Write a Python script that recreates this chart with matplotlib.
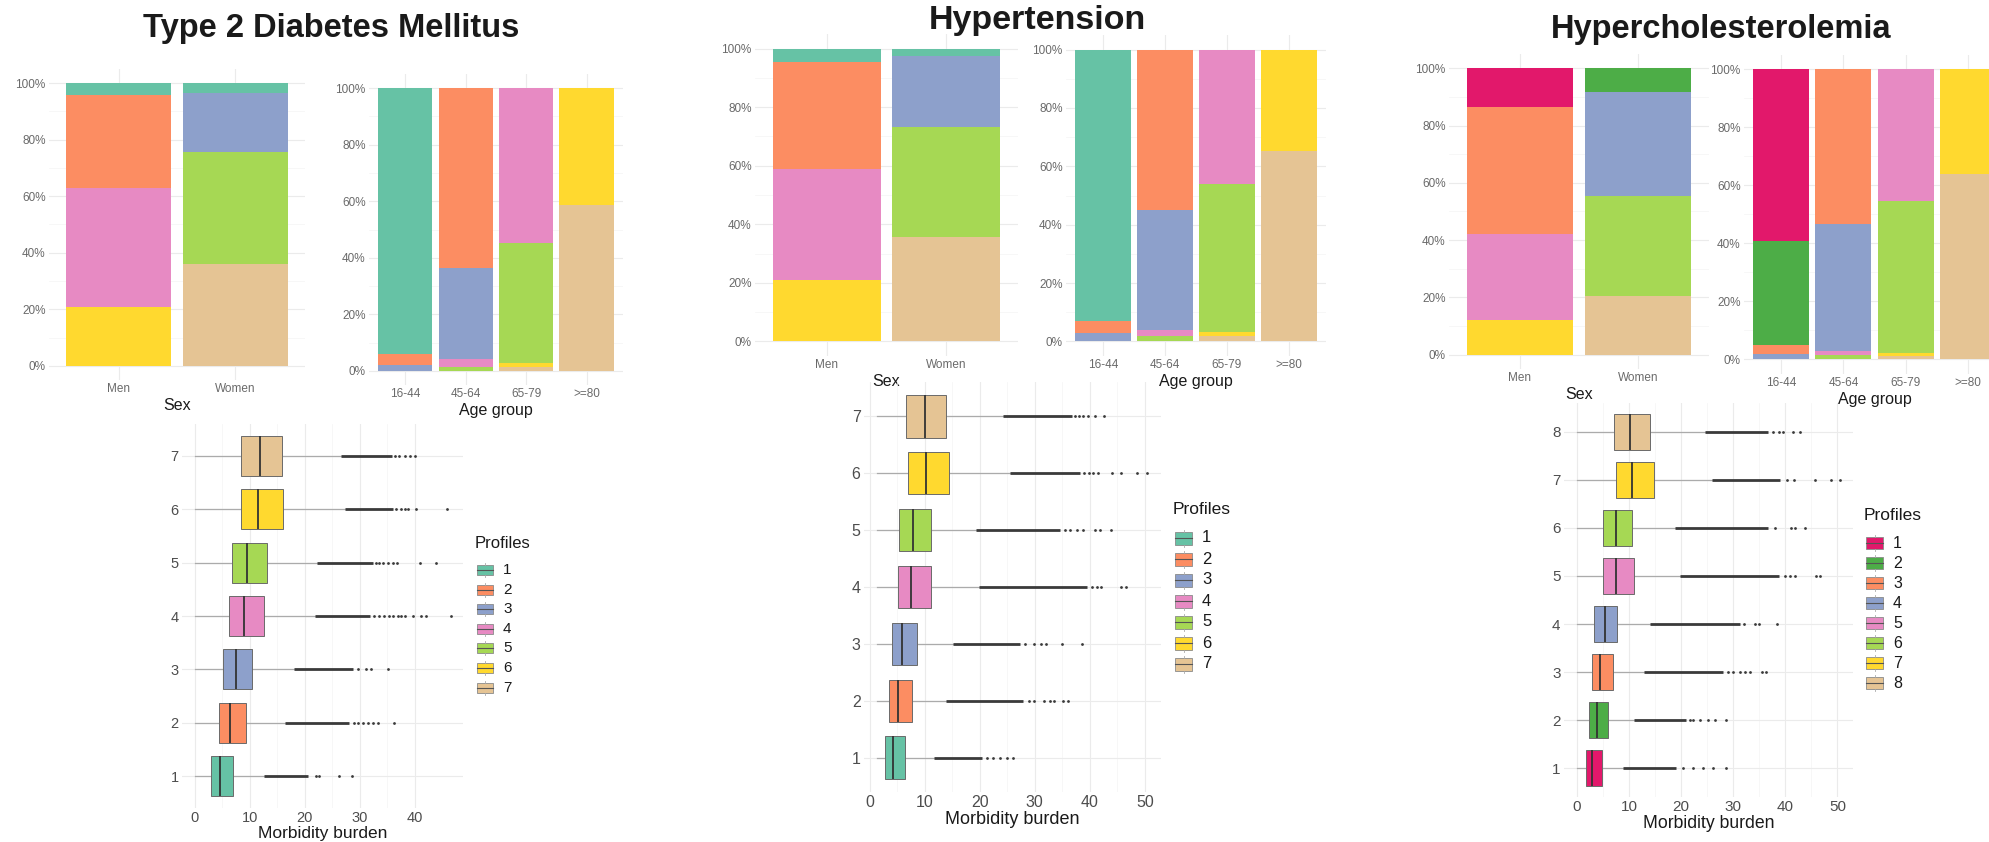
import matplotlib
matplotlib.use("Agg")
import matplotlib.pyplot as plt
from matplotlib.patches import Rectangle
import numpy as np

plt.rcParams['font.family'] = ['Liberation Sans', 'DejaVu Sans']

W, H, DPI = 1990, 842, 100

# ---------------------------------------------------------------- colours
SET2_7 = ["#66C2A5", "#FC8D62", "#8DA0CB", "#E78AC3", "#A6D854", "#FFD92F", "#E5C494"]
HCHOL_8 = ["#E2186B", "#4DAD47", "#FC8D62", "#8DA0CB", "#E78AC3", "#A6D854", "#FFD92F", "#E5C494"]

# ---------------------------------------------------------------- categories
sex_groups = ["Men", "Women"]
age_groups = ["16-44", "45-64", "65-79", ">=80"]
disease_titles = ["Type 2 Diabetes Mellitus", "Hypertension", "Hypercholesterolemia"]

# ---------------------------------------------------------------- profile shares (%) per group
t2dm_by_sex = [[4.1, 32.9, 0, 42.2, 0, 20.8, 0],
               [3.4, 0, 21.0, 0, 39.7, 0, 35.9]]
t2dm_by_age = [[94.0, 4.0, 2.0, 0, 0, 0, 0],
               [0, 63.5, 32.3, 2.8, 1.4, 0, 0],
               [0, 0, 0, 54.8, 42.3, 1.5, 1.4],
               [0, 0, 0, 0, 0, 41.4, 58.6]]

hta_by_sex = [[4.5, 36.6, 0, 37.8, 0, 21.1, 0],
              [2.5, 0, 24.3, 0, 37.7, 0, 35.5]]
hta_by_age = [[92.9, 4.1, 3.0, 0, 0, 0, 0],
              [0, 55.1, 40.9, 2.1, 1.9, 0, 0],
              [0, 0, 0, 45.9, 51.0, 1.4, 1.7],
              [0, 0, 0, 0, 0, 34.7, 65.3]]

hchol_by_sex = [[13.6, 0, 44.4, 0, 29.9, 0, 12.1, 0],
                [0, 8.1, 0, 36.5, 0, 34.8, 0, 20.6]]
hchol_by_age = [[59.0, 36.1, 3.1, 1.8, 0, 0, 0, 0],
                [0, 0, 53.2, 43.9, 1.4, 1.5, 0, 0],
                [0, 0, 0, 0, 45.5, 52.2, 1.2, 1.1],
                [0, 0, 0, 0, 0, 0, 36.1, 63.9]]

# ---------------------------------------------------------------- morbidity burden per profile
t2dm_q1 = [3.0, 4.4, 5.2, 6.2, 6.8, 8.4, 8.4]
t2dm_median = [4.7, 6.5, 7.6, 9.0, 9.5, 11.5, 11.8]
t2dm_q3 = [7.0, 9.4, 10.5, 12.6, 13.1, 16.1, 15.9]
t2dm_whisker_low = [0.1, 0.1, 0.1, 0.1, 0.1, 0.1, 0.1]
t2dm_whisker_high = [12.7, 16.4, 18.1, 21.8, 22.2, 27.3, 26.7]
t2dm_outlier_runs = [(12.7, 20.6), (16.4, 28.1), (18.1, 28.8), (21.8, 31.9),
                     (22.2, 32.4), (27.3, 36.1), (26.7, 35.8)]
t2dm_outliers = [[22.1, 22.7, 26.2, 28.7],
                 [28.9, 29.7, 30.6, 31.5, 32.4, 33.3, 36.2],
                 [29.7, 31.2, 32.1, 35.2],
                 [32.7, 33.6, 34.5, 35.3, 36.1, 37.0, 37.6, 38.2, 39.7, 41.2, 42.1, 46.7],
                 [33.0, 33.6, 34.2, 35.1, 36.1, 36.8, 40.9, 43.8],
                 [36.7, 37.6, 38.2, 38.8, 40.3, 45.8],
                 [36.4, 37.2, 38.2, 39.1, 40.0]]

hta_q1 = [2.8, 3.5, 4.0, 5.1, 5.3, 6.9, 6.7]
hta_median = [4.3, 5.1, 5.9, 7.6, 7.9, 10.3, 10.0]
hta_q3 = [6.4, 7.7, 8.6, 11.1, 11.1, 14.5, 13.9]
hta_whisker_low = [1.4, 1.4, 1.4, 1.4, 1.4, 1.4, 1.4]
hta_whisker_high = [11.7, 13.9, 15.2, 19.9, 19.3, 25.5, 24.3]
hta_outlier_runs = [(11.7, 20.4), (13.9, 27.8), (15.2, 27.4), (19.9, 39.4),
                    (19.3, 34.6), (25.5, 38.2), (24.3, 36.7)]
hta_outliers = [[21.3, 22.5, 23.6, 24.9, 26.1],
                [28.9, 29.8, 31.6, 32.7, 33.5, 35.2, 36.1],
                [28.3, 29.8, 31.1, 32.1, 35.0, 38.5],
                [40.3, 41.2, 42.1, 45.7, 46.6],
                [35.5, 36.4, 37.6, 38.8, 40.9, 41.8, 43.8],
                [38.9, 39.9, 40.6, 41.5, 44.0, 45.6, 48.6, 50.4],
                [37.3, 38.1, 38.8, 39.7, 40.9, 42.5]]

hchol_q1 = [1.8, 2.3, 2.8, 3.3, 4.9, 5.0, 7.4, 7.1]
hchol_median = [2.9, 3.8, 4.5, 5.3, 7.4, 7.4, 10.6, 10.1]
hchol_q3 = [4.8, 6.0, 6.9, 7.7, 11.0, 10.6, 14.8, 14.1]
hchol_whisker_low = [0.0, 0.0, 0.0, 0.0, 0.0, 0.0, 0.0, 0.0]
hchol_whisker_high = [8.8, 11.0, 12.9, 14.0, 19.7, 18.8, 26.0, 24.6]
hchol_outlier_runs = [(8.8, 19.1), (11.0, 21.0), (12.9, 28.1), (14.0, 31.3),
                      (19.7, 38.7), (18.8, 36.7), (26.0, 39.0), (24.6, 36.7)]
hchol_outliers = [[20.4, 22.3, 24.2, 26.2, 28.6],
                  [21.7, 22.3, 23.6, 25.1, 26.5, 28.7],
                  [29.0, 30.0, 31.3, 32.2, 33.2, 35.6, 36.3],
                  [32.1, 34.2, 35.0, 38.5],
                  [39.9, 40.9, 41.9, 45.9, 46.7],
                  [38.0, 41.0, 41.9, 43.8],
                  [40.3, 41.7, 45.7, 48.7, 50.5],
                  [37.7, 38.7, 39.6, 41.5, 42.8]]


fig = plt.figure(figsize=(W / DPI, H / DPI), dpi=DPI)
fig.patch.set_facecolor("white")


def px_axes(x0, y0, x1, y1):
    """Axes whose panel spans the given pixel box (origin top-left)."""
    return fig.add_axes([x0 / W, 1 - y1 / H, (x1 - x0) / W, (y1 - y0) / H])


def minimal_style(ax):
    for s in ax.spines.values():
        s.set_visible(False)
    ax.patch.set_alpha(0.0)
    ax.set_axisbelow(True)
    ax.tick_params(which="both", length=0)


def share_bars(ax, groups, shares, colors, tick_size=8.5, title=None,
               title_size=11.5, pad=2.5, labelpad=1.5):
    minimal_style(ax)
    x = np.arange(len(groups))
    data = np.array(shares, dtype=float)
    data = data / data.sum(axis=1, keepdims=True)
    bottom = np.zeros(len(groups))
    # highest profile sits at the bottom of each stack
    for p in range(data.shape[1] - 1, -1, -1):
        ax.bar(x, data[:, p], bottom=bottom, width=0.9, color=colors[p],
               linewidth=0, zorder=2)
        bottom += data[:, p]
    ax.set_xlim(-0.6, len(groups) - 0.4)
    ax.set_ylim(-0.05, 1.05)
    ax.set_yticks(np.arange(0, 1.01, 0.2))
    ax.set_yticklabels([f"{int(round(v * 100))}%" for v in np.arange(0, 1.01, 0.2)])
    ax.set_yticks(np.arange(0.1, 1.0, 0.2), minor=True)
    ax.set_xticks(x)
    ax.set_xticklabels(groups)
    ax.grid(which="major", color="#EBEBEB", lw=0.8)
    ax.grid(which="minor", axis="y", color="#F4F4F4", lw=0.5)
    ax.tick_params(which="both", labelsize=tick_size, labelcolor="#6A6A6A", pad=pad)
    ax.set_xlabel(title, fontsize=title_size, color="#1A1A1A", labelpad=labelpad)


def burden_boxes(ax, q1, med, q3, wlo, whi, runs, pts, colors, xlim, xticks,
                 tick_size=10.5, title_size=12.5):
    minimal_style(ax)
    n = len(q1)
    pos = np.arange(1, n + 1)
    stats = [dict(q1=q1[i], med=med[i], q3=q3[i], whislo=wlo[i], whishi=whi[i],
                  fliers=[]) for i in range(n)]
    kw = dict(positions=pos, widths=0.75, patch_artist=True, showcaps=False,
              showfliers=False,
              boxprops=dict(edgecolor="#6A6A6A", linewidth=0.7),
              whiskerprops=dict(color="#ABABAB", linewidth=0.9),
              medianprops=dict(color="#333333", linewidth=1.3))
    try:
        art = ax.bxp(stats, orientation="horizontal", **kw)
    except TypeError:
        art = ax.bxp(stats, vert=False, **kw)
    for patch, c in zip(art["boxes"], colors):
        patch.set_facecolor(c)
        patch.set_zorder(3)
    for line in art["medians"]:
        line.set_zorder(4)
    for i in range(n):
        ax.hlines(pos[i], runs[i][0], runs[i][1], color="#3A3A3A", lw=2.0, zorder=3)
        ax.plot(pts[i], [pos[i]] * len(pts[i]), "o", ms=2.0, color="#3A3A3A",
                mec="none", zorder=3)
    ax.set_xlim(*xlim)
    ax.set_ylim(0.4, n + 0.6)
    ax.set_xticks(xticks)
    ax.set_xticks(np.array(xticks[:-1]) + 5, minor=True)
    ax.set_yticks(pos)
    ax.set_yticklabels([str(p) for p in pos])
    ax.grid(which="major", color="#EBEBEB", lw=0.8)
    ax.grid(which="minor", axis="x", color="#F4F4F4", lw=0.5)
    ax.tick_params(which="both", labelsize=tick_size, labelcolor="#4D4D4D", pad=2.5)
    ax.set_xlabel("Morbidity burden", fontsize=title_size, color="#1A1A1A", labelpad=0.5)


# ---------------------------------------------------------------- Type 2 diabetes
ax = px_axes(49, 69, 305, 380)
share_bars(ax, sex_groups, t2dm_by_sex, SET2_7, title="Sex")
ax = px_axes(369, 74, 623, 385)
share_bars(ax, age_groups, t2dm_by_age, SET2_7, title="Age group")
ax = px_axes(182, 424, 463, 808)
burden_boxes(ax, t2dm_q1, t2dm_median, t2dm_q3, t2dm_whisker_low, t2dm_whisker_high,
             t2dm_outlier_runs, t2dm_outliers, SET2_7, (-2.3, 48.8), [0, 10, 20, 30, 40])

# ---------------------------------------------------------------- Hypertension
ax = px_axes(755, 34, 1018, 356)
share_bars(ax, sex_groups, hta_by_sex, SET2_7, title="Sex")
ax = px_axes(1066, 35, 1326, 356)
share_bars(ax, age_groups, hta_by_age, SET2_7, title="Age group")
ax = px_axes(864, 382, 1161, 792)
burden_boxes(ax, hta_q1, hta_median, hta_q3, hta_whisker_low, hta_whisker_high,
             hta_outlier_runs, hta_outliers, SET2_7, (-1.0, 52.9),
             [0, 10, 20, 30, 40, 50], tick_size=11.5, title_size=13)

# ---------------------------------------------------------------- Hypercholesterolemia
ax = px_axes(1449, 54, 1709, 369)
share_bars(ax, sex_groups, hchol_by_sex, HCHOL_8, title="Sex")
ax = px_axes(1744, 55, 2005, 374)
share_bars(ax, age_groups, hchol_by_age, HCHOL_8, title="Age group")
ax = px_axes(1564, 403, 1853, 797)
burden_boxes(ax, hchol_q1, hchol_median, hchol_q3, hchol_whisker_low, hchol_whisker_high,
             hchol_outlier_runs, hchol_outliers, HCHOL_8, (-2.5, 53.0),
             [0, 10, 20, 30, 40, 50], tick_size=11, title_size=12.7)

# ---------------------------------------------------------------- titles and legends
ov = fig.add_axes([0, 0, 1, 1])
ov.set_xlim(0, W)
ov.set_ylim(H, 0)
ov.axis("off")

for (cx, by, fs), t in zip([(331, 37, 23.5), (1037, 29, 24.5), (1721, 38, 23.5)],
                           disease_titles):
    ov.text(cx, by, t, ha="center", va="baseline", fontsize=fs,
            fontweight="bold", color="#1A1A1A")


def profile_legend(x_left, y_title, y_first, step, colors, key_w, key_h,
                   label_x, title_size, label_size):
    ov.text(x_left, y_title, "Profiles", ha="left", va="center",
            fontsize=title_size, color="#1A1A1A")
    for i, c in enumerate(colors):
        yc = y_first + i * step
        kx = x_left + 2
        ov.add_patch(Rectangle((kx, yc - key_h / 2), key_w, key_h, facecolor=c,
                               edgecolor="#8A8A8A", lw=0.6))
        ov.plot([kx, kx + key_w], [yc, yc], color="#555555", lw=0.8)
        ov.plot([kx + key_w / 2] * 2, [yc - key_h / 2 - 2, yc - key_h / 2],
                color="#AAAAAA", lw=0.6)
        ov.plot([kx + key_w / 2] * 2, [yc + key_h / 2, yc + key_h / 2 + 2],
                color="#AAAAAA", lw=0.6)
        ov.text(label_x, yc, str(i + 1), ha="left", va="center",
                fontsize=label_size, color="#1A1A1A")


profile_legend(475, 543, 570, 19.6, SET2_7, 16, 10, 503, 12, 11)
profile_legend(1173, 510, 538, 21.0, SET2_7, 17, 13, 1202, 12.5, 12)
profile_legend(1864, 516, 543, 20.0, HCHOL_8, 17, 12, 1893, 12.5, 11.5)

fig.savefig("out.png", dpi=DPI, facecolor="white")
